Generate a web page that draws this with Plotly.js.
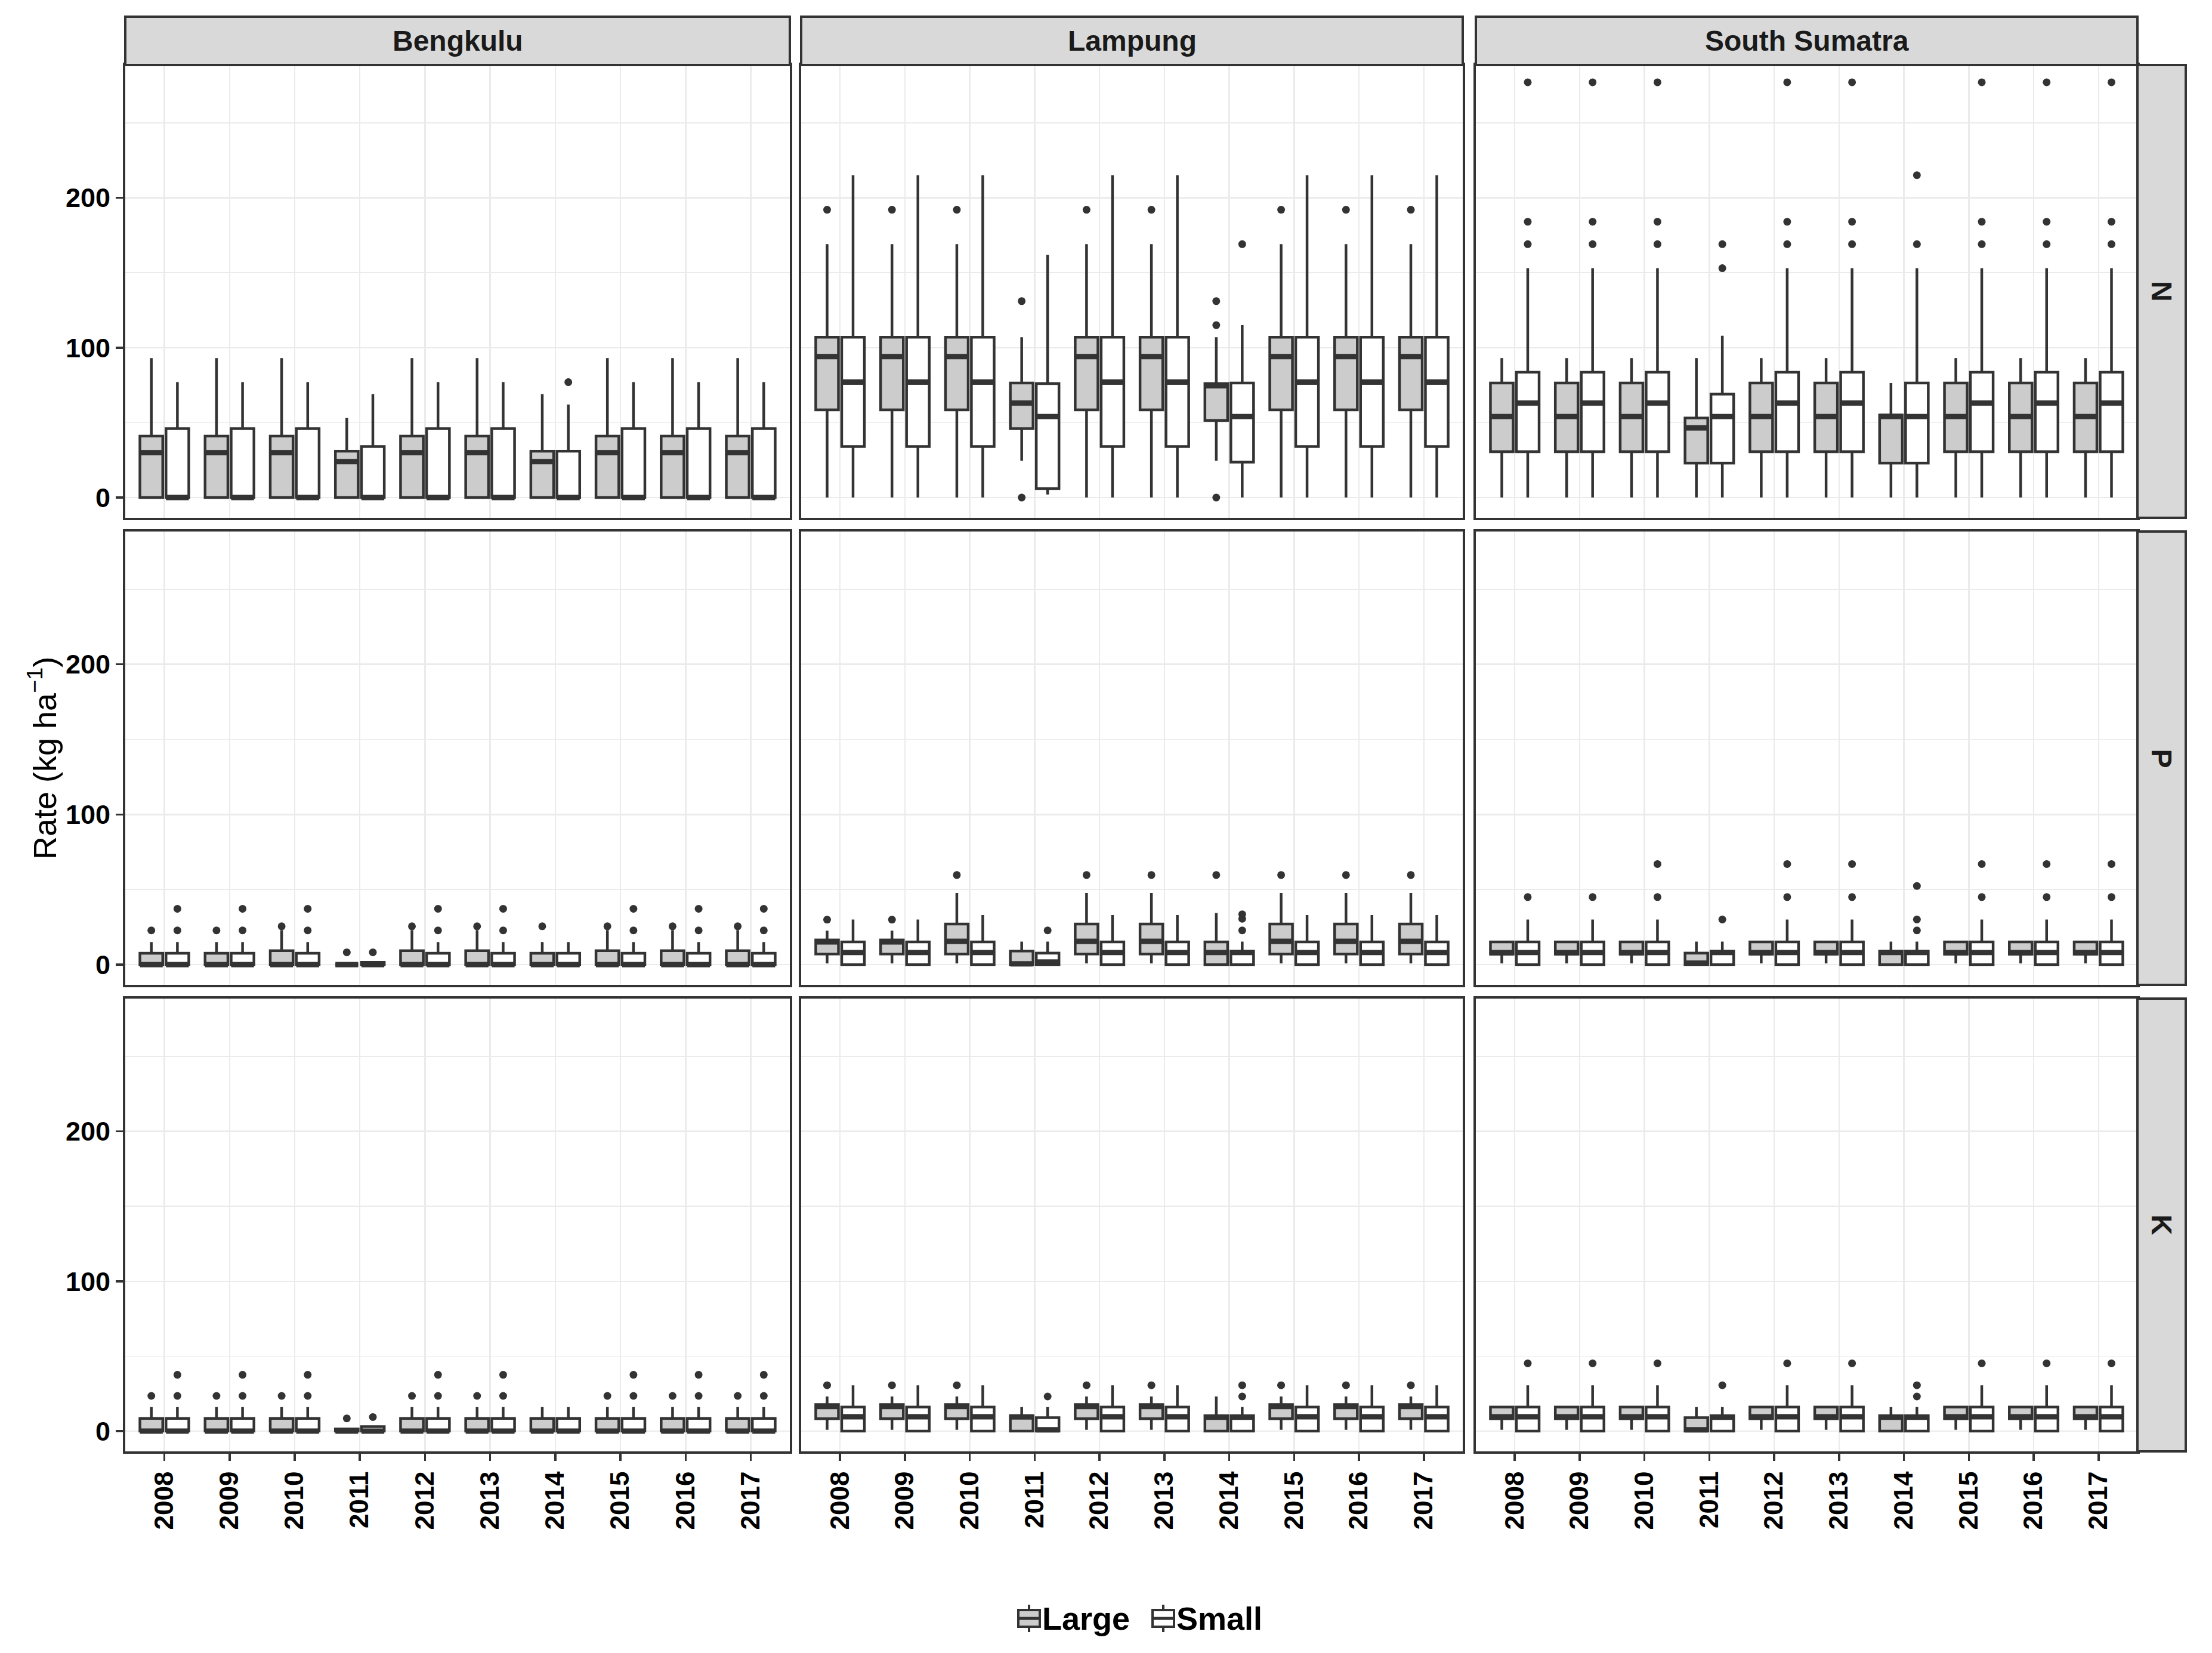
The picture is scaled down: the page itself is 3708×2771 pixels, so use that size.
<!DOCTYPE html>
<html><head><meta charset="utf-8">
<script src="https://cdn.plot.ly/plotly-3.0.1.min.js"></script>
<style>html,body{margin:0;padding:0;background:#fff}</style>
</head><body><div id="chart" style="width:3708px;height:2771px"></div>
<script>
const years = ['2008','2009','2010','2011','2012','2013','2014','2015','2016','2017'];
const provinces = ['Bengkulu','Lampung','South Sumatra'];
const nutrients = ['N','P','K'];
const groups = ['Large','Small'];

// each row: [lower whisker, q1, median, q3, upper whisker] for 2008..2017
const bengkulu_N_large = [[0,0,30,41,93],[0,0,30,41,93],[0,0,30,41,93],[0,0,24,31,53],[0,0,30,41,93],[0,0,30,41,93],[0,0,24,31,69],[0,0,30,41,93],[0,0,30,41,93],[0,0,30,41,93]];
const bengkulu_N_large_out = [[],[],[],[],[],[],[],[],[],[]];
const bengkulu_N_small = [[0,0,0,46,77],[0,0,0,46,77],[0,0,0,46,77],[0,0,0,34,69],[0,0,0,46,77],[0,0,0,46,77],[0,0,0,31,62],[0,0,0,46,77],[0,0,0,46,77],[0,0,0,46,77]];
const bengkulu_N_small_out = [[],[],[],[],[],[],[77],[],[],[]];

const lampung_N_large = [[0,58.5,94,107,169],[0,58.5,94,107,169],[0,58.5,94,107,169],[24.5,46,63,76.4,107],[0,58.5,94,107,169],[0,58.5,94,107,169],[24.5,51.5,74.5,76,107],[0,58.5,94,107,169],[0,58.5,94,107,169],[0,58.5,94,107,169]];
const lampung_N_large_out = [[192],[192],[192],[131,0],[192],[192],[131,115,0],[192],[192],[192]];
const lampung_N_small = [[0,34,77,107,215],[0,34,77,107,215],[0,34,77,107,215],[2,6,54,76,162],[0,34,77,107,215],[0,34,77,107,215],[0,23.6,54,76.4,115],[0,34,77,107,215],[0,34,77,107,215],[0,34,77,107,215]];
const lampung_N_small_out = [[],[],[],[],[],[],[169],[],[],[]];

const sumatra_N_large = [[0,30.6,54,76.4,93],[0,30.6,54,76.4,93],[0,30.6,54,76.4,93],[0,23,46.5,53,93],[0,30.6,54,76.4,93],[0,30.6,54,76.4,93],[0,23,54,55,76.4],[0,30.6,54,76.4,93],[0,30.6,54,76.4,93],[0,30.6,54,76.4,93]];
const sumatra_N_large_out = [[],[],[],[],[],[],[],[],[],[]];
const sumatra_N_small = [[0,30.6,63,83.6,153],[0,30.6,63,83.6,153],[0,30.6,63,83.6,153],[0,23,54,69,108],[0,30.6,63,83.6,153],[0,30.6,63,83.6,153],[0,23,54,76.4,153],[0,30.6,63,83.6,153],[0,30.6,63,83.6,153],[0,30.6,63,83.6,153]];
const sumatra_N_small_out = [[169,184,277],[169,184,277],[169,184,277],[153,169],[169,184,277],[169,184,277],[169,215],[169,184,277],[169,184,277],[169,184,277]];

const bengkulu_P_large = [[0,0,0,7.6,15],[0,0,0,7.6,15],[0,0,0,9.2,23],[0,0,0,0,0],[0,0,0,9.2,23],[0,0,0,9.2,23],[0,0,0,7.6,15],[0,0,0,9.2,23],[0,0,0,9.2,23],[0,0,0,9.2,23]];
const bengkulu_P_large_out = [[22.8],[22.8],[25.5],[8.2],[25.5],[25.5],[25.5],[25.5],[25.5],[25.5]];
const bengkulu_P_small = [[0,0,0,7.6,15],[0,0,0,7.6,15],[0,0,0,7.6,15],[0,0,0,1.5,1.5],[0,0,0,7.6,15],[0,0,0,7.6,15],[0,0,0,7.6,15],[0,0,0,7.6,15],[0,0,0,7.6,15],[0,0,0,7.6,15]];
const bengkulu_P_small_out = [[22.8,37.2],[22.8,37.2],[22.8,37.2],[8.2],[22.8,37.2],[22.8,37.2],[],[22.8,37.2],[22.8,37.2],[22.8,37.2]];

const lampung_P_large = [[0.8,7.1,15.1,16.4,22.7],[0.8,7.1,15.1,16.4,22.7],[0.8,7.1,15.5,27,47.7],[0,0,0.5,9.1,15.3],[0.8,7.1,15.5,27,47.7],[0.8,7.1,15.5,27,47.7],[0,0,8.1,15.1,34.4],[0.8,7.1,15.5,27,47.7],[0.8,7.1,15.5,27,47.7],[0.8,7.1,15.5,27,47.7]];
const lampung_P_large_out = [[30],[30],[59.7],[],[59.7],[59.7],[59.7],[59.7],[59.7],[59.7]];
const lampung_P_small = [[0,0,8.1,15.1,30],[0,0,8.1,15.1,30],[0,0,8.1,15.1,33],[0,0,1.7,7.7,15.3],[0,0,8.1,15.1,33],[0,0,8.1,15.1,33],[0,0,8.1,9.1,15.3],[0,0,8.1,15.1,33],[0,0,8.1,15.1,33],[0,0,8.1,15.1,33]];
const lampung_P_small_out = [[],[],[],[22.8],[],[],[22.8,30.5,33.5],[],[],[]];

const sumatra_P_large = [[0.8,7,8.1,15.1,15.1],[0.8,7,8.1,15.1,15.1],[0.8,7,8.1,15.1,15.1],[0,0,1,7.7,15.3],[0.8,7,8.1,15.1,15.1],[0.8,7,8.1,15.1,15.1],[0,0,8.1,9.1,15.3],[0.8,7,8.1,15.1,15.1],[0.8,7,8.1,15.1,15.1],[0.8,7,8.1,15.1,15.1]];
const sumatra_P_large_out = [[],[],[],[],[],[],[],[],[],[]];
const sumatra_P_small = [[0,0,8.1,15.1,30],[0,0,8.1,15.1,30],[0,0,8.1,15.1,30],[0,0,8.1,9.1,15.3],[0,0,8.1,15.1,30],[0,0,8.1,15.1,30],[0,0,8.1,9.1,15.3],[0,0,8.1,15.1,30],[0,0,8.1,15.1,30],[0,0,8.1,15.1,30]];
const sumatra_P_small_out = [[45],[45],[45,67],[30.1],[45,67],[45,67],[22.8,30.1,52.4],[45,67],[45,67],[45,67]];

const bengkulu_K_large = [[0,0,0,8.5,16],[0,0,0,8.5,16],[0,0,0,8.5,16],[0,0,0,1.4,1.4],[0,0,0,8.5,16],[0,0,0,8.5,16],[0,0,0,8.5,16],[0,0,0,8.5,16],[0,0,0,8.5,16],[0,0,0,8.5,16]];
const bengkulu_K_large_out = [[23.5],[23.5],[23.5],[8.5],[23.5],[23.5],[],[23.5],[23.5],[23.5]];
const bengkulu_K_small = [[0,0,0,8.5,16],[0,0,0,8.5,16],[0,0,0,8.5,16],[0,0,0,3,3],[0,0,0,8.5,16],[0,0,0,8.5,16],[0,0,0,8.5,16],[0,0,0,8.5,16],[0,0,0,8.5,16],[0,0,0,8.5,16]];
const bengkulu_K_small_out = [[23.5,37.6],[23.5,37.6],[23.5,37.6],[9.4],[23.5,37.6],[23.5,37.6],[],[23.5,37.6],[23.5,37.6],[23.5,37.6]];

const lampung_K_large = [[0.9,8.3,16.4,17.7,23.1],[0.9,8.3,16.4,17.7,23.1],[0.9,8.3,16.4,17.7,23.1],[0,0,9.5,10.3,16],[0.9,8.3,16.4,17.7,23.1],[0.9,8.3,16.4,17.7,23.1],[0,0,9.3,10.3,23.1],[0.9,8.3,16.4,17.7,23.1],[0.9,8.3,16.4,17.7,23.1],[0.9,8.3,16.4,17.7,23.1]];
const lampung_K_large_out = [[30.6],[30.6],[30.6],[],[30.6],[30.6],[],[30.6],[30.6],[30.6]];
const lampung_K_small = [[0,0,9.6,16,30.6],[0,0,9.6,16,30.6],[0,0,9.6,16,30.6],[0,0,0.9,9,16],[0,0,9.6,16,30.6],[0,0,9.6,16,30.6],[0,0,9.3,10.3,16],[0,0,9.6,16,30.6],[0,0,9.6,16,30.6],[0,0,9.6,16,30.6]];
const lampung_K_small_out = [[],[],[],[23.1],[],[],[23.1,30.6],[],[],[]];

const sumatra_K_large = [[0.9,8.3,9.6,16,16],[0.9,8.3,9.6,16,16],[0.9,8.3,9.6,16,16],[0,0,0.9,9,16],[0.9,8.3,9.6,16,16],[0.9,8.3,9.6,16,16],[0,0,9.3,10.3,16],[0.9,8.3,9.6,16,16],[0.9,8.3,9.6,16,16],[0.9,8.3,9.6,16,16]];
const sumatra_K_large_out = [[],[],[],[],[],[],[],[],[],[]];
const sumatra_K_small = [[0,0,9.6,16,30.6],[0,0,9.6,16,30.6],[0,0,9.6,16,30.6],[0,0,9.3,10.3,16],[0,0,9.6,16,30.6],[0,0,9.6,16,30.6],[0,0,9.3,10.3,16],[0,0,9.6,16,30.6],[0,0,9.6,16,30.6],[0,0,9.6,16,30.6]];
const sumatra_K_small_out = [[45.2],[45.2],[45.2],[30.6],[45.2],[45.2],[23.1,30.6],[45.2],[45.2],[45.2]];

// facet lookup: [nutrient row][province col] -> [Large, Small]
const facetStats = [
  [[bengkulu_N_large, bengkulu_N_small],[lampung_N_large, lampung_N_small],[sumatra_N_large, sumatra_N_small]],
  [[bengkulu_P_large, bengkulu_P_small],[lampung_P_large, lampung_P_small],[sumatra_P_large, sumatra_P_small]],
  [[bengkulu_K_large, bengkulu_K_small],[lampung_K_large, lampung_K_small],[sumatra_K_large, sumatra_K_small]]
];
const facetOut = [
  [[bengkulu_N_large_out, bengkulu_N_small_out],[lampung_N_large_out, lampung_N_small_out],[sumatra_N_large_out, sumatra_N_small_out]],
  [[bengkulu_P_large_out, bengkulu_P_small_out],[lampung_P_large_out, lampung_P_small_out],[sumatra_P_large_out, sumatra_P_small_out]],
  [[bengkulu_K_large_out, bengkulu_K_small_out],[lampung_K_large_out, lampung_K_small_out],[sumatra_K_large_out, sumatra_K_small_out]]
];

// ---- styling / layout geometry ----
const W = 3708, H = 2771;
const px = x => x / W;
const py = y => 1 - y / H;
const colPx = [[210,1324],[1343,2452],[2474,3583]];
const rowPx = [[109,868],[891,1651],[1674,2433]];
const stripTop = 28, stripRightX1 = 3664;
const fills = {Large:'#CCCCCC', Small:'#FFFFFF'};
const dark = '#333333';
const FONT = 'Liberation Sans, Arial, Helvetica, sans-serif';
const groupOffset = [-0.2, 0.2];
const boxWidth = 0.35;
const idx = years.map((_, i) => i);

const traces = [];
const layout = {
  width: W, height: H,
  margin: {l:0, r:0, t:0, b:0},
  paper_bgcolor: '#FFFFFF', plot_bgcolor: '#FFFFFF',
  font: {family: FONT, color: '#000000'},
  boxmode: 'overlay',
  hovermode: false,
  showlegend: false,
  shapes: [], annotations: []
};

for (let r = 0; r < 3; r++) {
  for (let c = 0; c < 3; c++) {
    const k = r * 3 + c + 1;
    const xa = 'x' + (k === 1 ? '' : k), ya = 'y' + (k === 1 ? '' : k);
    const xName = 'xaxis' + (k === 1 ? '' : k), yName = 'yaxis' + (k === 1 ? '' : k);
    layout[xName] = {
      domain: [px(colPx[c][0]), px(colPx[c][1])], anchor: ya,
      range: [-0.6, 9.6], tickmode: 'array', tickvals: idx, ticktext: years,
      showgrid: true, gridcolor: '#EBEBEB', gridwidth: 2.5, zeroline: false,
      showline: true, mirror: true, linecolor: dark, linewidth: 4,
      ticks: r === 2 ? 'outside' : '', ticklen: 12, tickwidth: 3.5, tickcolor: dark,
      showticklabels: r === 2, tickangle: -90,
      tickfont: {family: FONT, size: 44, color: '#000000', weight: 'bold'}
    };
    layout[yName] = {
      domain: [py(rowPx[r][1]), py(rowPx[r][0])], anchor: xa,
      range: [-13.5, 288.5], tick0: 0, dtick: 100,
      showgrid: true, gridcolor: '#EBEBEB', gridwidth: 2.5, zeroline: false,
      minor: {tick0: 0, dtick: 50, showgrid: true, gridcolor: '#EBEBEB', gridwidth: 1.5},
      showline: true, mirror: true, linecolor: dark, linewidth: 4,
      ticks: c === 0 ? 'outside' : '', ticklen: 12, tickwidth: 3.5, tickcolor: dark,
      showticklabels: c === 0,
      tickfont: {family: FONT, size: 45, color: '#000000', weight: 'bold'}
    };
    for (let g = 0; g < 2; g++) {
      const st = facetStats[r][c][g];
      traces.push({
        type: 'box', name: groups[g], showlegend: false,
        x: idx.map(i => i + groupOffset[g]), width: boxWidth, xaxis: xa, yaxis: ya,
        lowerfence: st.map(d => d[0]), q1: st.map(d => d[1]), median: st.map(d => d[2]),
        q3: st.map(d => d[3]), upperfence: st.map(d => d[4]),
        boxpoints: false, whiskerwidth: 0,
        fillcolor: fills[groups[g]], line: {color: dark, width: 4.5}
      });
    }
    for (let g = 0; g < 2; g++) {
      const st = facetStats[r][c][g];
      const mx = [], my = [];
      st.forEach((d, i) => { mx.push(i + groupOffset[g] - boxWidth / 2, i + groupOffset[g] + boxWidth / 2, null); my.push(d[2], d[2], null); });
      traces.push({type: 'scatter', mode: 'lines', x: mx, y: my, xaxis: xa, yaxis: ya,
                   line: {color: dark, width: 9}, showlegend: false, hoverinfo: 'skip'});
      const out = facetOut[r][c][g];
      const ox = [], oy = [];
      out.forEach((vals, i) => vals.forEach(v => { ox.push(i + groupOffset[g]); oy.push(v); }));
      traces.push({type: 'scatter', mode: 'markers', x: ox, y: oy, xaxis: xa, yaxis: ya,
                   marker: {color: dark, size: 13}, showlegend: false, hoverinfo: 'skip', cliponaxis: false});
    }
  }
}

// facet strips
for (let c = 0; c < 3; c++) {
  layout.shapes.push({type: 'rect', xref: 'paper', yref: 'paper',
    x0: px(colPx[c][0]), x1: px(colPx[c][1]), y0: py(rowPx[0][0]), y1: py(stripTop),
    fillcolor: '#D9D9D9', line: {color: dark, width: 4}, layer: 'above'});
  layout.annotations.push({xref: 'paper', yref: 'paper', x: px((colPx[c][0] + colPx[c][1]) / 2),
    y: py((stripTop + rowPx[0][0]) / 2), text: provinces[c], showarrow: false,
    font: {family: FONT, size: 48, color: '#1A1A1A', weight: 'bold'}, xanchor: 'center', yanchor: 'middle'});
}
for (let r = 0; r < 3; r++) {
  layout.shapes.push({type: 'rect', xref: 'paper', yref: 'paper',
    x0: px(colPx[2][1]), x1: px(stripRightX1), y0: py(rowPx[r][1]), y1: py(rowPx[r][0]),
    fillcolor: '#D9D9D9', line: {color: dark, width: 4}, layer: 'above'});
  layout.annotations.push({xref: 'paper', yref: 'paper', x: px((colPx[2][1] + stripRightX1) / 2),
    y: py((rowPx[r][0] + rowPx[r][1]) / 2), text: nutrients[r], showarrow: false, textangle: 90,
    font: {family: FONT, size: 48, color: '#1A1A1A', weight: 'bold'}, xanchor: 'center', yanchor: 'middle'});
}
// y axis title
layout.annotations.push({xref: 'paper', yref: 'paper', x: px(71), y: py((rowPx[0][0] + rowPx[2][1]) / 2),
  text: 'Rate (kg ha<sup>\u22121</sup>)', showarrow: false, textangle: -90,
  font: {family: FONT, size: 54, color: '#000000'}, xanchor: 'center', yanchor: 'middle'});

// legend key (boxplot glyph + label), drawn below the panels
const keyX = [1707, 1932];           // left edge of each key glyph (px)
const keyW = 36, keyTop = 2699, keyBot = 2727, keyWhTop = 2690, keyWhBot = 2736, keyMid = 2713;
groups.forEach((g, i) => {
  const x0 = keyX[i], xc = x0 + keyW / 2;
  layout.shapes.push({type: 'line', xref: 'paper', yref: 'paper', x0: px(xc), x1: px(xc), y0: py(keyWhTop), y1: py(keyWhBot), line: {color: dark, width: 4}});
  layout.shapes.push({type: 'rect', xref: 'paper', yref: 'paper', x0: px(x0), x1: px(x0 + keyW), y0: py(keyBot), y1: py(keyTop), fillcolor: fills[g], line: {color: dark, width: 4}});
  layout.shapes.push({type: 'line', xref: 'paper', yref: 'paper', x0: px(x0), x1: px(x0 + keyW), y0: py(keyMid), y1: py(keyMid), line: {color: dark, width: 5}});
  layout.annotations.push({xref: 'paper', yref: 'paper', x: px(x0 + keyW + 2), y: py(keyMid), text: g, showarrow: false,
    xanchor: 'left', yanchor: 'middle', font: {family: FONT, size: 54, color: '#000000', weight: 'bold'}});
});

Plotly.newPlot('chart', traces, layout, {staticPlot: true});
</script></body></html>
